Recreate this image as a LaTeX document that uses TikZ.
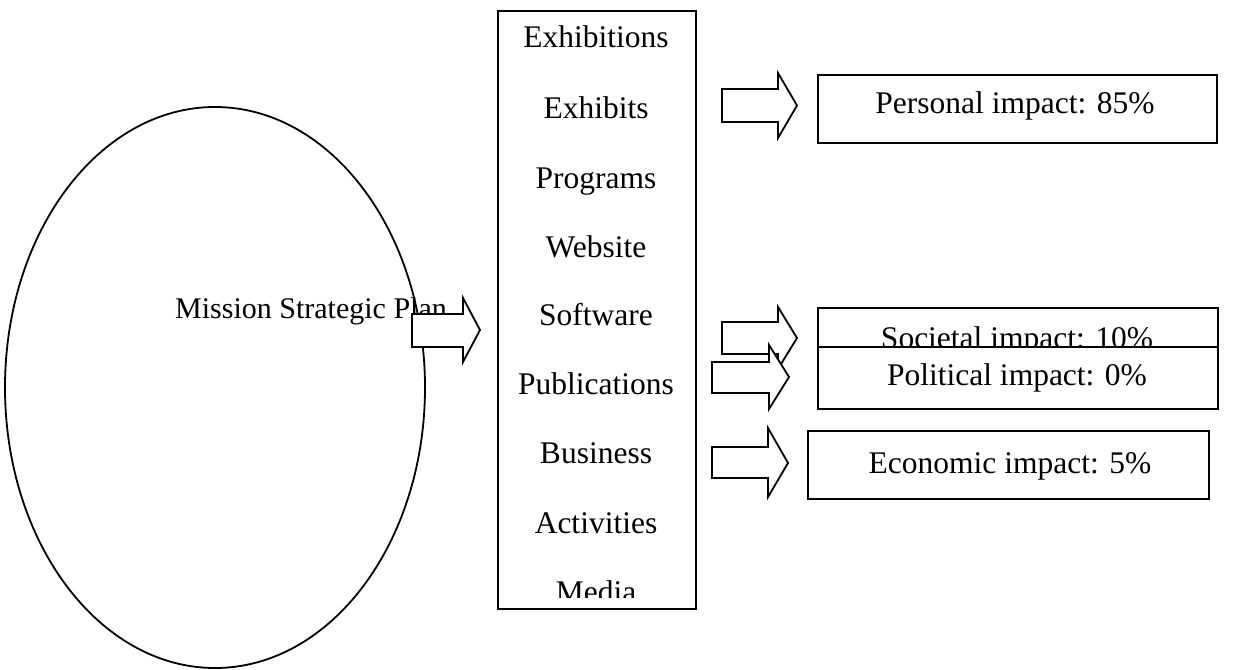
\documentclass[tikz,border=0pt]{standalone}
\usepackage{fontspec}
\setmainfont{Liberation Serif}
\usetikzlibrary{shapes.geometric}
\begin{document}
\begin{tikzpicture}[x=1pt,y=-1pt,
  line/.style={line width=1.8pt,draw=black},
  box/.style={line, rectangle, fill=white, inner sep=0pt, anchor=north west},
  lbl/.style={inner sep=0pt, anchor=base, font=\fontsize{31.5}{37}\selectfont},
  blockarrow/.style={line, fill=white, line join=miter}]
\useasboundingbox (0,0) rectangle (1233,669);
% mission ellipse
\node[line, ellipse, inner sep=0pt, minimum width=420pt, minimum height=561pt] (mission) at (215,387.5) {};
\node[inner sep=0pt, anchor=base west, font=\fontsize{30}{36}\selectfont] (mtext) at (175,318) {Mission Strategic Plan};
\draw[blockarrow] (412,314) -- (463,314) -- (463,298) -- (480,330) -- (463,362) -- (463,347) -- (412,347) -- cycle;
% list box
\node[box, minimum width=198pt, minimum height=598pt] (list) at (497,10) {};
\node[lbl] (i1) at (596,48) {Exhibitions};
\node[lbl] (i2) at (596,118) {Exhibits};
\node[lbl] (i3) at (596,188) {Programs};
\node[lbl] (i4) at (596,257) {Website};
\node[lbl] (i5) at (596,325) {Software};
\node[lbl] (i6) at (596,394) {Publications};
\node[lbl] (i7) at (596,463) {Business};
\node[lbl] (i8) at (596,533) {Activities};
\begin{scope}
\clip (497,540) rectangle (695,597.5);
\node[lbl] (i9) at (596,602) {Media};
\end{scope}
% personal
\draw[blockarrow] (722,89) -- (778,89) -- (778,73) -- (797,105.5) -- (778,138) -- (778,122) -- (722,122) -- cycle;
\node[box, minimum width=399pt, minimum height=68pt] (personal) at (817,74) {};
\node[lbl] (ptext) at (1015,113) {Personal impact: 85\%};
% societal
\node[box, minimum width=400pt, minimum height=62pt] (societal) at (817,307) {};
\node[lbl] (stext) at (1017,348) {Societal impact: 10\%};
\draw[blockarrow] (722,322) -- (778,322) -- (778,307) -- (797,338) -- (778,369) -- (778,354) -- (722,354) -- cycle;
% political
\draw[blockarrow] (712,362) -- (769,362) -- (769,345) -- (789,377) -- (769,409) -- (769,393) -- (712,393) -- cycle;
\node[box, minimum width=400pt, minimum height=62pt] (political) at (817,346) {};
\node[lbl] (potext) at (1017,385) {Political impact: 0\%};
% economic
\draw[blockarrow] (712,447) -- (768,447) -- (768,428) -- (788,463) -- (768,497) -- (768,478) -- (712,478) -- cycle;
\node[box, minimum width=401pt, minimum height=68pt] (economic) at (807,430) {};
\node[lbl] (etext) at (1010,473) {Economic impact: 5\%};
\end{tikzpicture}
\end{document}
